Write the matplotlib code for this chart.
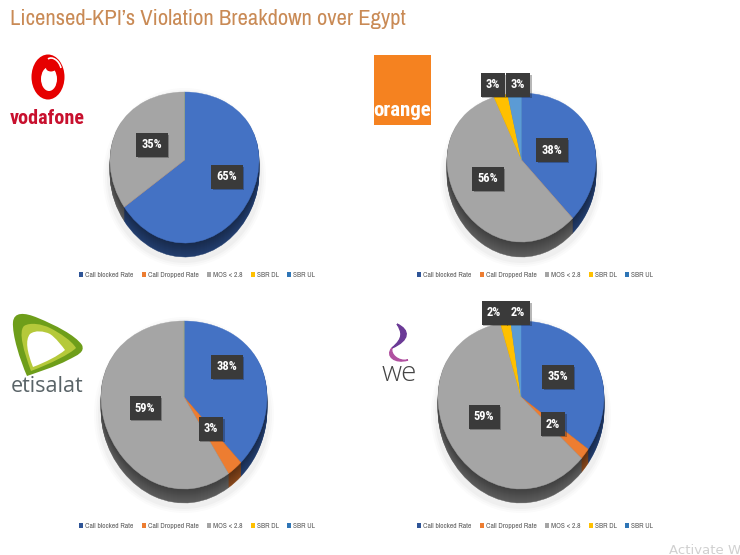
# -*- coding: utf-8 -*-
import numpy as np
import matplotlib
matplotlib.use('Agg')
import matplotlib.pyplot as plt
from matplotlib.patches import Ellipse, Patch, PathPatch, Rectangle
from matplotlib.path import Path
from matplotlib.colors import to_rgb
from matplotlib.legend import Legend
from matplotlib.patheffects import withSimplePatchShadow

H = 555
NARROW = ['Archivo Narrow', 'Roboto Condensed', 'Liberation Sans']
BOLD = ['Roboto Condensed', 'Liberation Sans']

title = "Licensed-KPI\u2019s Violation Breakdown over Egypt"
categories = ['Call blocked Rate', 'Call Dropped Rate', 'MOS < 2.8', 'SBR DL', 'SBR UL']
colors = ['#4472C4', '#ED7D31', '#A5A5A5', '#FFC000', '#5B9BD5']
side_colors = ['#1F3864', '#7A4018', '#555555', '#806000', '#2E5F8A']
legend_colors = ['#2F5597', '#ED7D31', '#A5A5A5', '#FFC000', '#2E75B6']

vodafone = [65, 0, 35, 0, 0]
orange = [38, 0, 56, 3, 3]
etisalat = [38, 3, 59, 0, 0]
we = [35, 2, 59, 2, 2]

# left, right, top, face bottom, apex y, side depth (pixels)
boxes = [(110, 259, 92, 243, 160, 14),
         (447, 596, 93, 242, 160, 15),
         (101, 267, 321, 489, 397, 14),
         (438, 604, 321, 489, 397, 14)]
label_pos = [[(227, 177), None, (152, 145), None, None],
             [(552, 150), None, (488, 179), (493, 85), (518, 85)],
             [(227, 367), (211, 429), (145, 408), None, None],
             [(558, 377), (553, 424), (484, 417), (494, 313), (518, 313)]]
legend_pos = [(197, 275), (535, 275), (197, 526), (535, 526)]


def warp(xy, box, dy=0):
    # unit pie to pixels, the apex sits above the middle of the face like in a tilted pie
    left, right, top, bottom, apex, depth = box
    cx, cy = (left + right) / 2, (top + bottom) / 2
    rx, ry = (right - left) / 2, (bottom - top) / 2
    a = (cy - apex) / ry
    x = cx + xy[:, 0] * rx
    y = cy - (xy[:, 1] + a * (1 - xy[:, 1] ** 2)) * ry + dy
    return np.column_stack([x, H - y])


def draw_pie(ax, values, box):
    left, right, top, bottom, apex, depth = box
    cx, cy = (left + right) / 2, (top + bottom) / 2
    # soft halo around the pie
    for grow, alpha in [(7, 0.03), (5, 0.04), (3, 0.05)]:
        ax.add_patch(Ellipse((cx, H - (cy + depth / 2 + 3)), right - left + 2 * grow,
                             bottom - top + depth + 2 * grow, fc='#808080', ec='none', alpha=alpha))
    for dy in list(range(depth, 0, -1)) + [0]:
        if dy:
            f = 0.75 + 0.35 * dy / depth
            cols = [tuple(min(1, c * f) for c in to_rgb(s)) for s in side_colors]
        else:
            cols = colors
        wedges, _ = ax.pie(values, colors=cols, startangle=90, counterclock=False, radius=1, center=(0, 0))
        for w, c in zip(wedges, cols):
            p = w.get_path()
            w.remove()
            ax.add_patch(PathPatch(Path(warp(p.vertices, box, dy), p.codes), fc=c, ec=c, lw=0.3))


def draw_labels(ax, values, positions):
    for v, pos in zip(values, positions):
        if pos is None:
            continue
        t = ax.text(pos[0], H - pos[1], '%d%%' % v, color='white', fontsize=9, fontweight='bold',
                    family=BOLD, ha='center', va='center', zorder=10,
                    bbox=dict(boxstyle='square,pad=0.42', fc='#3A3A3A', ec='none'))
        t.get_bbox_patch().set_path_effects([withSimplePatchShadow(offset=(1, -1), alpha=0.3)])


def draw_legend(ax, pos):
    handles = [Patch(fc=c, ec='none') for c in legend_colors]
    leg = Legend(ax, handles, categories, ncols=5, loc='center', frameon=False,
                 bbox_to_anchor=(pos[0], H - pos[1]), bbox_transform=ax.transData,
                 handlelength=0.55, handleheight=0.55, handletextpad=0.25,
                 columnspacing=1.1, borderpad=0, labelcolor='#5A5A5A',
                 prop={'family': NARROW, 'size': 5.4})
    ax.add_artist(leg)


def curve(points):
    # first point then bezier triples
    pts = [(x, H - y) for x, y in points]
    codes = [Path.MOVETO] + [Path.CURVE4] * (len(pts) - 1)
    return Path(pts, codes)


def draw_logos(ax):
    # vodafone
    ax.add_patch(Ellipse((48, H - 77), 33, 45, fc='#E60000', ec='none'))
    ax.add_patch(Ellipse((49, H - 79), 16, 24, fc='white', ec='none'))
    ax.add_patch(Ellipse((51, H - 68), 10, 7, fc='#E60000', ec='none'))
    ax.add_patch(PathPatch(curve([(48, 59), (52, 56), (59, 60), (61, 68)]), fc='none', ec='white', lw=1.2))
    ax.text(47, H - 118, 'vodafone', color='#C8102E', fontsize=14.5, fontweight='bold',
            family=BOLD, ha='center', va='center')
    # orange
    ax.add_patch(Rectangle((374, H - 125), 57, 70, fc='#F58220', ec='none'))
    ax.text(402, H - 111, 'orange', color='white', fontsize=15, fontweight='bold',
            family=BOLD, ha='center', va='center')
    # etisalat
    outer = curve([(27, 376), (20, 360), (12, 335), (13, 322), (14, 312), (24, 312), (38, 318),
                   (55, 325), (75, 335), (82, 345), (85, 352), (78, 355), (68, 360), (55, 367), (38, 372), (27, 376)])
    band = curve([(31, 371), (24, 352), (18, 332), (24, 326), (30, 322), (42, 324), (50, 328),
                  (60, 333), (72, 341), (76, 348), (70, 354), (50, 364), (31, 371)])
    hole = curve([(33, 367), (27, 352), (25, 340), (30, 334), (35, 330), (44, 331), (50, 334),
                  (56, 338), (62, 346), (65, 350), (58, 356), (46, 362), (33, 367)])
    ax.add_patch(PathPatch(outer, fc='#6E9E1A', ec='none'))
    ax.add_patch(PathPatch(band, fc='#B5C93A', ec='none'))
    ax.add_patch(PathPatch(hole, fc='white', ec='none'))
    ax.text(47, H - 386, 'etisalat', color='#5A6468', fontsize=15.5, family='Open Sans',
            ha='center', va='center')
    # we
    top_part = curve([(397, 324), (410, 330), (410, 340), (392, 348), (404, 338), (402, 332), (397, 324)])
    low_part = curve([(392, 348), (385, 356), (395, 364), (408, 360), (398, 362), (390, 354), (392, 348)])
    ax.add_patch(PathPatch(top_part, fc='#6B3A96', ec='#6B3A96', lw=1))
    ax.add_patch(PathPatch(low_part, fc='#B050A0', ec='#B050A0', lw=1))
    ax.text(399, H - 374, 'we', color='#444444', fontsize=20, fontweight='light', family='Open Sans',
            ha='center', va='center')


fig = plt.figure(figsize=(7.4, 5.55), dpi=100)
ax = fig.add_axes([0, 0, 1, 1])

pies = [vodafone, orange, etisalat, we]
for values, box in zip(pies, boxes):
    draw_pie(ax, values, box)

ax.set_aspect('auto')
ax.set_xlim(0, 740)
ax.set_ylim(0, H)
ax.axis('off')

for values, pos in zip(pies, label_pos):
    draw_labels(ax, values, pos)
for pos in legend_pos:
    draw_legend(ax, pos)
draw_logos(ax)

ax.text(10, H - 19, title, color='#C98A55', fontsize=16.3, family=NARROW, ha='left', va='center')
ax.text(669, H - 550, 'Activate W', color='#D0D0D0', fontsize=9.5, ha='left', va='center')

fig.savefig('out.png', dpi=100)
